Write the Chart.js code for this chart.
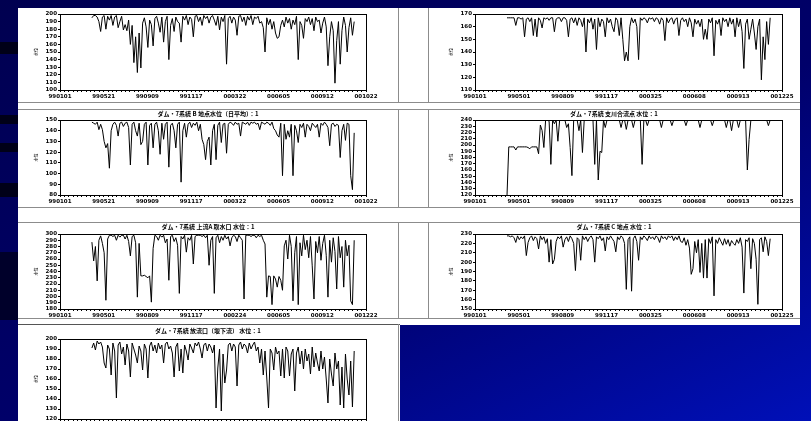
<!DOCTYPE html>
<html>
<head>
<meta charset="utf-8">
<script src="https://cdn.jsdelivr.net/npm/chart.js@4.4.0/dist/chart.umd.min.js"></script>
<style>
  html, body { margin: 0; padding: 0; }
  body {
    width: 811px; height: 421px; overflow: hidden; position: relative;
    background: linear-gradient(155deg, #000050 0%, #00006a 55%, #0010b8 100%);
  }
  .sheet { position: absolute; background: #fff; }
  .band { position: absolute; left: 0; width: 18px; background: #000018; }
  .hl { position: absolute; height: 1px; background: #8c8c8c; }
  .vl { position: absolute; width: 1px; background: #8c8c8c; }
  canvas { position: absolute; }
</style>
</head>
<body>
<div class="band" style="top:42px;height:12px"></div>
<div class="band" style="top:115px;height:9px"></div>
<div class="band" style="top:143px;height:9px"></div>
<div class="band" style="top:183px;height:14px"></div>
<div class="band" style="top:252px;height:68px;background:#00002a"></div>

<div class="sheet" style="left:18px;top:8px;width:782px;height:317px"></div>
<div class="sheet" style="left:18px;top:325px;width:382px;height:96px"></div>

<div class="hl" style="left:18px;top:102px;width:782px"></div>
<div class="hl" style="left:18px;top:109px;width:782px"></div>
<div class="hl" style="left:18px;top:207px;width:782px"></div>
<div class="hl" style="left:18px;top:222px;width:782px"></div>
<div class="hl" style="left:18px;top:318px;width:782px"></div>
<div class="hl" style="left:18px;top:324px;width:382px;background:#555"></div>
<div class="vl" style="left:398px;top:8px;height:94px"></div>
<div class="vl" style="left:398px;top:109px;height:98px"></div>
<div class="vl" style="left:398px;top:222px;height:96px"></div>
<div class="vl" style="left:398px;top:324px;height:97px"></div>
<div class="vl" style="left:428px;top:8px;height:94px"></div>
<div class="vl" style="left:428px;top:109px;height:98px"></div>
<div class="vl" style="left:428px;top:222px;height:96px"></div>

<canvas id="c1" width="380" height="94" style="left:18px;top:8px"></canvas>
<canvas id="c2" width="372" height="94" style="left:428px;top:8px"></canvas>
<canvas id="c3" width="380" height="97" style="left:18px;top:110px"></canvas>
<canvas id="c4" width="372" height="97" style="left:428px;top:110px"></canvas>
<canvas id="c5" width="380" height="95" style="left:18px;top:223px"></canvas>
<canvas id="c6" width="372" height="95" style="left:428px;top:223px"></canvas>
<canvas id="c7" width="380" height="107" style="left:18px;top:324px"></canvas>

<script>
// date labels under the x axis (one every 100 days)
const datesA = ['990101', '990521', '990909', '991117', '000322', '000605', '000912', '001022'];
const datesB = ['990101', '990501', '990809', '991117', '000325', '000608', '000913', '001225'];
const datesC = ['990101', '990501', '990809', '991117', '000224', '000605', '000912', '001222'];

// daily records start on day 73, one reading kept every 4 days
const START_DAY = 73;
const STEP_DAYS = 4;

const titles = [
  '',
  '',
  'ダム・7系統 B 地点水位（日平均）：1',
  'ダム・7系統 支川合流点 水位：1',
  'ダム・7系統 上流A 取水口 水位：1',
  'ダム・7系統 C 地点 水位：1',
  'ダム・7系統 放流口（堰下流） 水位：1'
];

const level1 = [
  195,198,198,196,190,177,196,198,180,197,
  192,198,185,196,198,182,190,197,179,186,
  178,192,160,185,136,170,123,175,129,188,
  195,183,156,192,186,158,194,197,188,176,
  196,163,190,197,140,185,194,177,196,190,
  188,163,197,192,198,186,196,193,170,197,
  198,190,196,185,198,194,197,188,196,198,
  192,185,197,179,196,190,198,134,194,197,
  188,196,192,172,197,198,190,196,185,197,
  192,198,186,196,194,197,188,190,182,150,
  195,186,193,180,190,175,168,170,185,192,
  183,196,188,194,180,192,186,197,140,190,
  185,168,194,190,196,186,194,178,196,190,
  192,175,188,196,183,132,170,190,178,109,
  165,190,134,178,196,185,150,182,195,172,
  190
];

const level2 = [
  167,167,167,167,167,161,167,167,166,167,
  152,166,167,164,167,153,166,152,167,165,
  159,167,166,167,165,167,167,156,166,167,
  167,164,167,167,165,152,166,167,163,167,
  161,167,165,160,167,140,166,163,167,158,
  166,142,167,160,166,164,152,167,163,166,
  160,156,167,165,153,167,150,133,140,133,
  160,167,163,166,160,134,167,165,167,166,
  163,167,166,167,164,167,166,162,167,165,
  149,167,163,166,167,162,166,167,153,165,
  167,164,166,160,167,163,152,166,162,165,
  160,166,150,158,150,166,163,167,137,165,
  162,166,153,167,164,166,160,167,162,166,
  152,167,160,166,156,127,162,166,150,158,
  166,155,142,160,166,118,152,134,164,146,
  167
];

const level3 = [
  148,147,146,148,141,146,141,130,124,128,
  105,140,146,148,145,135,147,148,144,147,
  148,143,108,146,148,140,135,147,127,130,
  146,148,108,145,147,124,146,148,140,118,
  147,132,146,148,106,145,147,140,124,146,
  148,92,140,147,134,146,148,143,147,145,
  148,140,146,132,127,113,130,134,108,140,
  146,113,145,148,129,146,147,119,146,148,
  147,145,148,146,147,135,148,147,146,148,
  145,148,147,148,146,147,141,148,147,146,
  148,147,145,148,142,140,136,134,147,98,
  146,132,140,134,146,98,145,140,129,146,
  143,147,134,146,144,140,147,145,143,146,
  134,147,145,148,146,143,126,146,147,144,
  146,145,115,140,146,131,147,146,98,85,
  138
];

const level4 = [
  120,197,197,197,197,192,197,197,197,197,
  197,197,196,194,197,197,197,197,186,232,
  223,196,240,240,238,169,240,234,240,206,
  240,240,240,240,228,234,196,151,240,240,
  240,223,240,188,240,240,240,240,240,240,
  169,240,144,190,188,240,228,240,240,240,
  240,240,240,240,240,228,240,240,225,240,
  240,240,228,240,240,240,240,169,240,240,
  231,240,240,240,240,240,240,240,228,240,
  240,240,240,240,231,240,240,240,240,240,
  240,240,231,240,240,240,240,240,240,240,
  228,240,240,240,240,240,240,231,240,240,
  240,240,240,240,240,228,240,240,223,240,
  240,240,228,240,240,240,240,160,209,240,
  240,240,240,240,240,240,240,240,240,231,
  240
];

const level5 = [
  287,257,280,225,290,297,285,270,194,292,
  298,298,296,298,290,298,295,298,298,292,
  298,288,265,296,298,286,199,285,233,233,
  234,232,230,233,191,277,298,296,290,298,
  295,298,286,292,226,296,298,288,294,282,
  205,296,292,298,271,294,290,298,252,296,
  298,298,298,296,298,294,298,250,290,296,
  205,294,298,286,296,290,298,292,296,281,
  294,298,296,288,298,294,290,196,298,298,
  298,296,298,298,294,298,296,298,290,284,
  199,233,232,187,233,228,215,232,226,210,
  281,290,260,298,280,193,270,296,187,286,
  265,298,275,290,262,296,249,196,288,270,
  296,258,285,298,266,199,290,255,294,272,
  212,296,262,280,215,290,265,282,193,187,
  290
];

const level6 = [
  228,228,227,228,226,221,228,224,227,225,
  228,207,221,226,228,223,227,225,214,228,
  224,227,220,225,200,224,198,203,222,227,
  225,228,216,224,227,222,228,225,220,191,
  226,224,202,228,224,227,222,226,228,224,
  200,227,225,228,223,226,212,227,224,228,
  225,222,211,227,224,228,226,220,171,224,
  227,169,225,228,222,202,227,224,228,226,
  223,228,225,227,224,228,226,221,228,225,
  227,224,228,226,228,223,227,224,228,222,
  221,226,218,224,215,187,193,222,210,224,
  189,220,183,224,183,225,220,227,164,224,
  220,226,222,218,225,219,224,217,223,220,
  218,224,220,226,216,167,224,222,226,193,
  225,220,203,155,224,226,211,227,222,207,
  225
];

const level7 = [
  191,196,189,198,195,197,192,176,171,194,
  190,164,196,188,141,194,197,185,192,174,
  195,188,162,196,190,184,176,193,188,169,
  195,190,161,193,197,188,194,186,196,190,
  194,176,195,197,190,193,186,162,192,196,
  168,190,166,194,188,179,195,191,186,196,
  193,197,190,181,194,196,188,195,192,186,
  194,131,171,190,128,185,156,169,194,196,
  188,195,192,153,194,197,190,195,193,186,
  196,190,194,197,188,192,176,190,164,188,
  161,131,190,186,169,192,185,188,163,190,
  161,192,188,163,185,190,148,186,192,175,
  188,170,190,178,185,165,192,172,186,176,
  168,188,170,182,160,136,180,165,153,186,
  170,178,134,172,131,185,160,144,178,132,
  188
];

// box around the plot area plus the small caption above it
const frame = {
  id: 'frame',
  afterDraw(chart, args, opts) {
    const { ctx, chartArea: a } = chart;
    ctx.save();
    ctx.strokeStyle = '#000';
    ctx.lineWidth = 1;
    ctx.strokeRect(Math.round(a.left) + 0.5, Math.round(a.top) + 0.5,
                   Math.round(a.right - a.left), Math.round(a.bottom - a.top));
    if (opts.text) {
      ctx.font = 'bold 6px "Noto Sans CJK JP"';
      ctx.fillStyle = '#000';
      ctx.textAlign = 'center';
      ctx.textBaseline = 'middle';
      ctx.fillText(opts.text, chart.width / 2, opts.y);
    }
    ctx.restore();
  }
};

const tickFont = { family: 'DejaVu Sans', size: 5.5, weight: 'bold' };

function drawLevel(id, values, dates, yMin, yMax, p) {
  const ctx = document.getElementById(id).getContext('2d');
  const points = values.map((v, i) => ({ x: START_DAY + i * STEP_DAYS, y: v }));
  return new Chart(ctx, {
    type: 'line',
    data: {
      datasets: [{
        data: points,
        borderColor: '#000',
        borderWidth: 1,
        pointRadius: 0,
        tension: 0,
        fill: false
      }]
    },
    options: {
      responsive: false,
      animation: false,
      layout: { padding: { top: p.top, right: p.right, bottom: 0, left: 0 } },
      plugins: {
        legend: { display: false },
        tooltip: { enabled: false },
        frame: { text: p.title, y: p.titleY }
      },
      scales: {
        x: {
          type: 'linear',
          min: 0,
          max: 700,
          afterFit: (scale) => { scale.height = p.axisH; },
          border: { display: false },
          grid: { drawOnChartArea: false, tickLength: 2, color: '#000' },
          ticks: {
            stepSize: 10,
            autoSkip: false,
            maxRotation: 0,
            padding: 1,
            color: '#000',
            font: tickFont,
            callback: (v) => (v % 100 === 0 ? dates[v / 100] : '')
          }
        },
        y: {
          min: yMin,
          max: yMax,
          afterFit: (scale) => { scale.width = p.yW; },
          border: { display: false },
          grid: { drawOnChartArea: false, tickLength: 2, color: '#000' },
          ticks: { stepSize: 10, autoSkip: false, padding: 1, color: '#000', font: tickFont },
          title: {
            display: true,
            text: '水位',
            color: '#000',
            font: { family: 'Noto Sans CJK JP', size: 4 },
            padding: { top: p.yTitlePad, bottom: 0 }
          }
        }
      }
    },
    plugins: [frame]
  });
}

const leftCol = { right: 32, yW: 42, yTitlePad: 16 };
const rightCol = { right: 18, yW: 47, yTitlePad: 21 };

drawLevel('c1', level1, datesA, 100, 200, { ...leftCol, top: 6, axisH: 12, title: titles[0] });
drawLevel('c2', level2, datesB, 110, 170, { ...rightCol, top: 6, axisH: 12, title: titles[1] });
drawLevel('c3', level3, datesA, 80, 150, { ...leftCol, top: 10, axisH: 12, title: titles[2], titleY: 3.5 });
drawLevel('c4', level4, datesB, 120, 240, { ...rightCol, top: 10, axisH: 12, title: titles[3], titleY: 3.5 });
drawLevel('c5', level5, datesC, 180, 300, { ...leftCol, top: 11, axisH: 9, title: titles[4], titleY: 3.5 });
drawLevel('c6', level6, datesB, 150, 230, { ...rightCol, top: 11, axisH: 9, title: titles[5], titleY: 3.5 });
drawLevel('c7', level7, datesC, 120, 200, { ...leftCol, top: 15, axisH: 12, title: titles[6], titleY: 6.5 });
</script>
</body>
</html>
